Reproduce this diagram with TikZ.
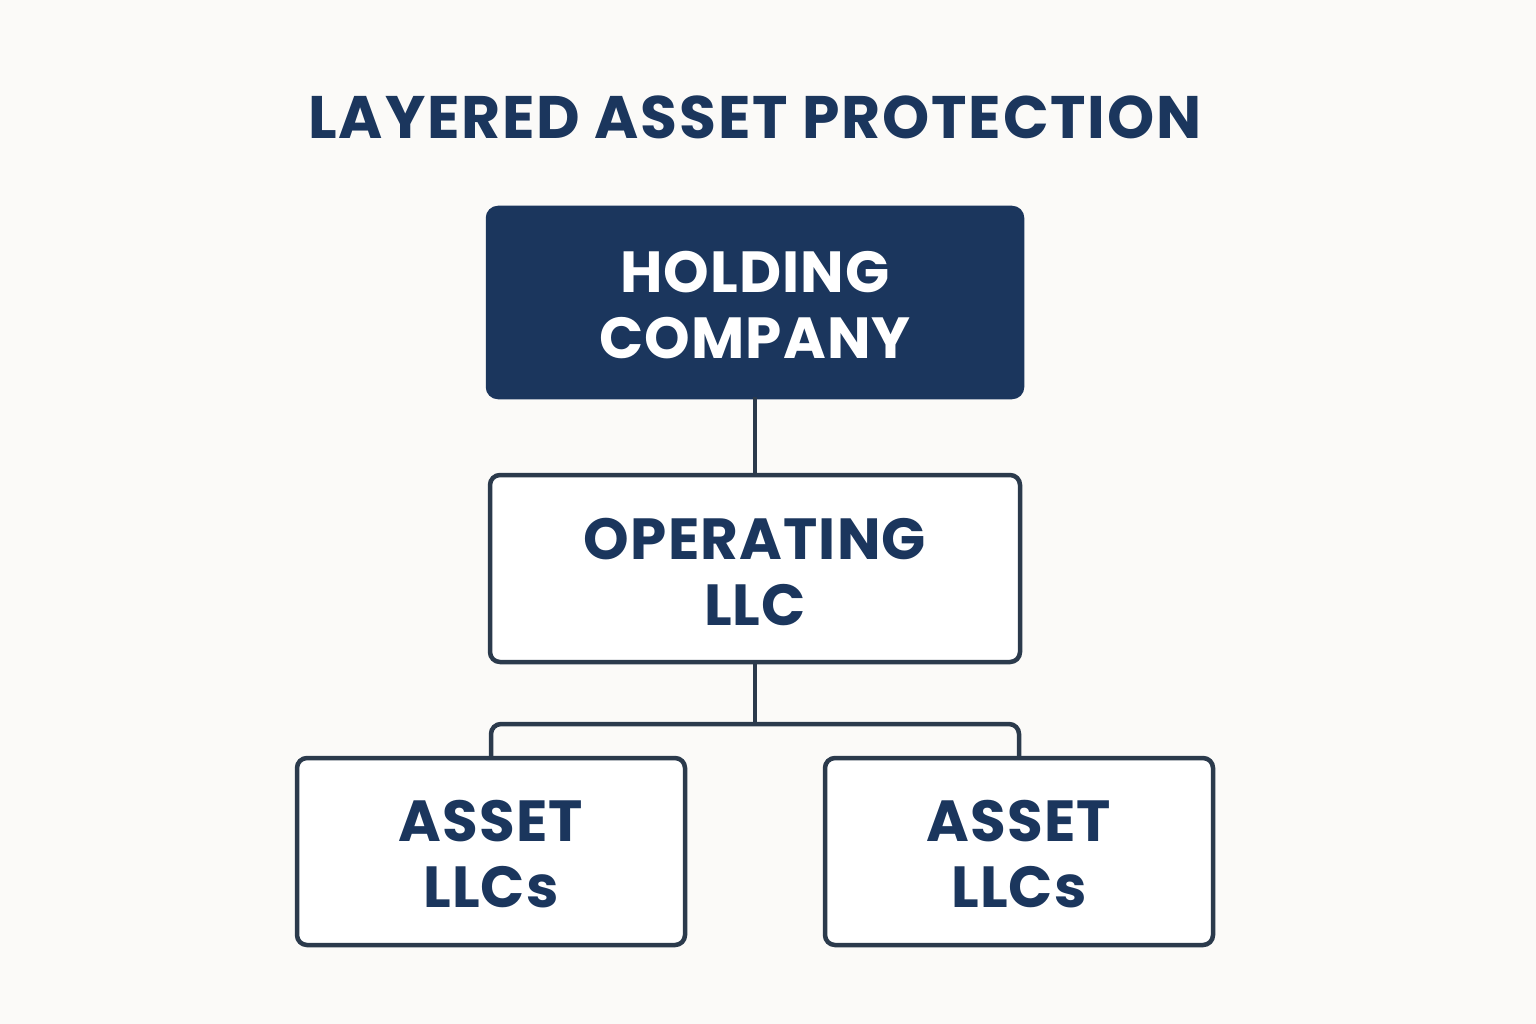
\documentclass[tikz,border=0pt]{standalone}
\usepackage{fontspec}
\setmainfont{Poppins}
\begin{document}
\begin{tikzpicture}[x=1pt,y=-1pt,
  box/.style={draw=lineC,line width=4.5pt,rounded corners=10pt,fill=white,anchor=north west,inner sep=0pt,outer sep=0pt},
  lbl/.style={text=navy,font=\fontsize{58}{66}\selectfont\bfseries\addfontfeature{LetterSpace=2},align=center,yshift=-3pt},
  conn/.style={draw=lineC,line width=4.5pt,rounded corners=10pt}]
\definecolor{navy}{HTML}{1B365D}
\definecolor{lineC}{HTML}{2B3A4C}
\definecolor{bg}{HTML}{FBFAF8}
\fill[bg] (0,0) rectangle (1536,1024);
\useasboundingbox (0,0) rectangle (1536,1024);
\node[text=navy,font=\fontsize{60}{66}\selectfont\bfseries\addfontfeature{LetterSpace=3}] (title) at (755,117) {LAYERED ASSET PROTECTION};
\node[box,fill=navy,draw=navy,minimum width=534pt,minimum height=189pt] (hold) at (488,208) {};
\node[box,minimum width=530pt,minimum height=187pt] (op) at (490,475) {};
\node[box,minimum width=388pt,minimum height=187pt] (a1) at (297,758) {};
\node[box,minimum width=388pt,minimum height=187pt] (a2) at (825,758) {};
\node[lbl,text=white] at (hold.center) {HOLDING\\COMPANY};
\node[lbl] at (op.center) {OPERATING\\LLC};
\node[lbl] at (a1.center) {ASSET\\LLCs};
\node[lbl] at (a2.center) {ASSET\\LLCs};
\draw[conn,rounded corners=0pt] (hold.south) -- (op.north);
\coordinate (j) at ([yshift=-62pt]op.south);
\draw[conn,rounded corners=0pt] (op.south) -- (j);
\draw[conn] (a1.north) -- (a1.north |- j) -- (a2.north |- j) -- (a2.north);
\end{tikzpicture}
\end{document}
